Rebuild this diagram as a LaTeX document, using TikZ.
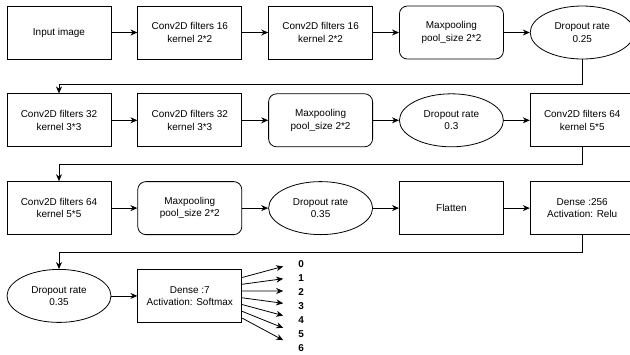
\documentclass[tikz,border=0pt]{standalone}
\usepackage{fontspec}
\setmainfont{Liberation Sans}
\usetikzlibrary{positioning,shapes.geometric,arrows.meta}
\tikzset{
  layer/.style={draw, line width=0.8bp, minimum width=104bp, minimum height=53bp,
    align=center, inner sep=2bp, font=\fontsize{10}{12.5}\selectfont},
  pool/.style={layer, rounded corners=8bp},
  drop/.style={layer, ellipse},
  arr/.style={-{Stealth[length=7bp,width=6bp]}, line width=0.8bp},
  cls/.style={inner sep=0pt, font=\fontsize{10}{12}\selectfont\bfseries}
}

\begin{document}
\begin{tikzpicture}[x=1bp, y=1bp, node distance=34bp and 26bp]
  \useasboundingbox (0,0) rectangle (630,-354);
  % Define nodes
  \node[layer] (in) at (59,-32.5) {Input image};
  \node[layer, right=of in] (c1) {Conv2D filters 16\\kernel 2*2};
  \node[layer, right=of c1] (c2) {Conv2D filters 16\\kernel 2*2};
  \node[pool, right=of c2] (m1) {Maxpooling\\pool\_size 2*2};
  \node[drop, right=of m1] (d1) {Dropout rate\\0.25};

  \node[layer, below=of in] (c3) {Conv2D filters 32\\kernel 3*3};
  \node[layer, right=of c3] (c4) {Conv2D filters 32\\kernel 3*3};
  \node[pool, right=of c4] (m2) {Maxpooling\\pool\_size 2*2};
  \node[drop, right=of m2] (d2) {Dropout rate\\0.3};
  \node[layer, right=of d2] (c5) {Conv2D filters 64\\kernel 5*5};

  \node[layer, below=of c3] (c6) {Conv2D filters 64\\kernel 5*5};
  \node[pool, right=of c6] (m3) {Maxpooling\\pool\_size 2*2};
  \node[drop, right=of m3] (d3) {Dropout rate\\0.35};
  \node[layer, right=of d3] (fl) {Flatten};
  \node[layer, right=of fl] (de1) {Dense :256\\Activation: Relu};

  \node[drop, below=of c6] (d4) {Dropout rate\\0.35};
  \node[layer, right=of d4] (de2) {Dense :7\\Activation: Softmax};

  \foreach \i in {0,...,6} {
    \coordinate (t\i) at ([shift={(41,29.5-12.3*\i)}]de2.east);
    \node[cls] (o\i) at ([shift={(59,32-14*\i)}]de2.east) {\i};
  }

  % Connect nodes
  \draw[arr] (in) -- (c1);
  \draw[arr] (c1) -- (c2);
  \draw[arr] (c2) -- (m1);
  \draw[arr] (m1) -- (d1);
  \draw[arr] (d1.south) -- ++(0,-25) -| (c3.north);
  \draw[arr] (c3) -- (c4);
  \draw[arr] (c4) -- (m2);
  \draw[arr] (m2) -- (d2);
  \draw[arr] (d2) -- (c5);
  \draw[arr] (c5.south) -- ++(0,-17) -| (c6.north);
  \draw[arr] (c6) -- (m3);
  \draw[arr] (m3) -- (d3);
  \draw[arr] (d3) -- (fl);
  \draw[arr] (fl) -- (de1);
  \draw[arr] (de1.south) -- ++(0,-17) -| (d4.north);
  \draw[arr] (d4) -- (de2);
  \foreach \i in {0,...,6}
    \draw[arr] ([yshift={18.5-6.8*\i}]de2.east) -- (t\i);
\end{tikzpicture}
\end{document}
